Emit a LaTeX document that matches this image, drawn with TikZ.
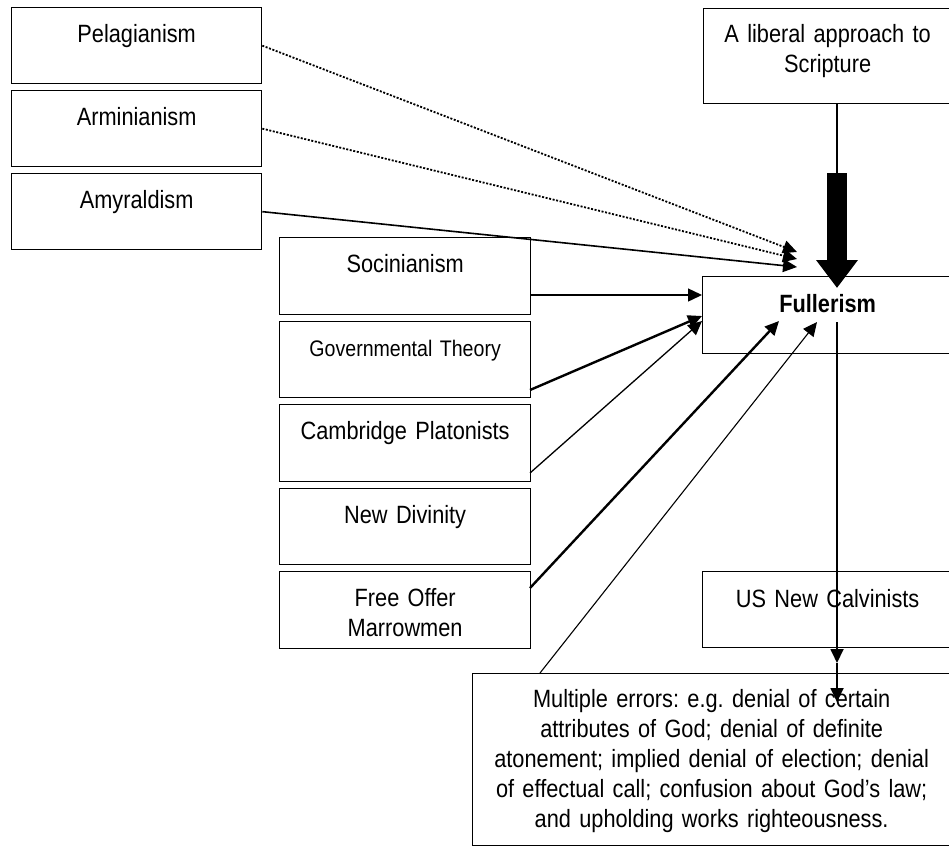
\documentclass[tikz,border=0pt]{standalone}
\usepackage{fontspec}
\setmainfont{Liberation Sans}[FakeStretch=0.87]
\usetikzlibrary{arrows.meta}
\newcommand\boxfont{\fontsize{25}{30}\selectfont\spaceskip=5.6pt plus 2pt minus 1pt\relax}
\newcommand\smallboxfont{\fontsize{22.5}{28}\selectfont\spaceskip=5pt plus 2pt minus 1pt\relax}
\tikzset{
  box/.style={draw, line width=1.3pt, anchor=north west, inner sep=0pt, align=center, text height=35pt, font=\boxfont},
  arr/.style={-{Triangle[length=14pt,width=13pt]}, line width=1.4pt},
}
\begin{document}
\frenchspacing
\begin{tikzpicture}[x=1pt, y=-1pt]
      \useasboundingbox (0,0) rectangle (949,846);
      \draw
        (11,7) node[box, text width=250pt, text depth=41pt] (pel){Pelagianism}
        (11,90) node[box, text width=250pt, text depth=41pt] (arm){Arminianism}
        (11,173) node[box, text width=250pt, text depth=41pt] (amy){Amyraldism}
        (279,237) node[box, text width=251pt, text depth=42pt] (soc){Socinianism}
        (279,321) node[box, text width=251pt, text depth=41pt, font=\smallboxfont] (gov){Governmental Theory}
        (279,404) node[box, text width=251pt, text depth=42pt] (cam){Cambridge Platonists}
        (279,488) node[box, text width=251pt, text depth=41pt] (newd){New Divinity}
        (279,571) node[box, text width=251pt, text depth=42pt] (free){Free Offer\\Marrowmen}
        (703,8) node[box, text width=248pt, text depth=61pt, text height=34pt] (lib){A liberal approach to\\Scripture}
        (702,276) node[box, text width=250pt, text depth=41pt, text height=36pt] (full){\textbf{Fullerism}}
        (702,571) node[box, text width=250pt, text depth=40pt, text height=36pt] (usnc){US New Calvinists}
        (472,673) node[box, text width=478pt, text depth=138pt, text height=34pt] (err){Multiple errors: e.g. denial of certain\\attributes of God; denial of definite\\atonement; implied denial of election; denial\\of effectual call; confusion about God’s law;\\and upholding works righteousness.};
      % where the arrows meet Fullerism
      \coordinate (pelin) at (797,252);
      \coordinate (armin) at (797,259);
      \coordinate (amyin) at (797,267);
      \coordinate (socout) at (530,295);
      \coordinate (socin) at (702,295);
      \coordinate (govout) at (530,390);
      \coordinate (govin) at (702,316);
      \coordinate (camout) at (530,473);
      \coordinate (camin) at (702,321);
      \coordinate (freeout) at (530,588);
      \coordinate (freein) at (779,321);
      \coordinate (errout) at (540,673);
      \coordinate (errin) at (817,322);
      \coordinate (libout) at (837,103);
      \coordinate (bigfrom) at (837,173);
      \coordinate (bigtip) at (837,288);
      \coordinate (fullout) at (837,322);
      \coordinate (downa) at (837,663);
      \coordinate (downb) at (837,702);
      \begin{scope}[arr]
        \draw[line width=1.8pt, dash pattern=on 2pt off 1.6pt] (pel.east) to (pelin);
        \draw[line width=1.8pt, dash pattern=on 2pt off 1.6pt] (arm.east) to (armin);
        \draw[line width=1.6pt] (amy.east) to (amyin);
        \draw (socout) to (socin);
        \draw[line width=2.4pt] (govout) to (govin);
        \draw[line width=1.3pt] (camout) to (camin);
        \draw[line width=2.4pt] (freeout) to (freein);
        \draw[line width=1.1pt] (errout) to (errin);
        \draw[line width=1.8pt] (fullout) to (downa);
        \draw[line width=1.8pt] (downa) to (downb);
      \end{scope}
      \draw[line width=1.6pt] (libout) -- (bigfrom);
      \draw[line width=20pt, -{Triangle[length=28pt,width=40pt]}] (bigfrom) -- (bigtip);
    \end{tikzpicture}
\end{document}
